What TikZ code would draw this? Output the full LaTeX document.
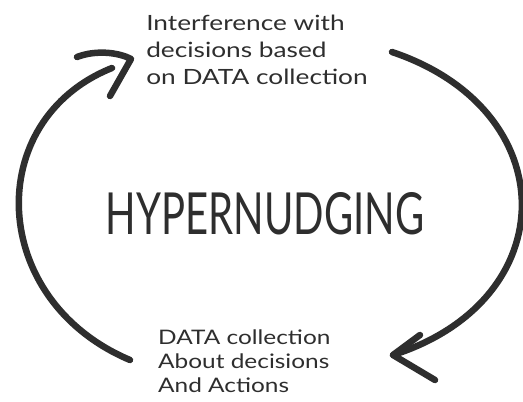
\documentclass[tikz,border=0pt]{standalone}
\usepackage{fontspec}
\setmainfont{Lato}
\definecolor{ink}{HTML}{2E2E2E}
\begin{document}
\begin{tikzpicture}[x=1pt,y=-1pt,
  arc/.style={draw=ink,line width=6.5pt,line cap=round,line join=round},
  note/.style={text=ink,align=left,anchor=north west,inner sep=0pt,transform shape},
  title/.style={text=ink,inner sep=0pt,font=\fontsize{40}{40}\selectfont,yscale=1.45,transform shape}]
\useasboundingbox (0,0) rectangle (523,402);
\fill[white] (0,0) rectangle (523,402);
% texts
\node[note,xscale=1.25,font=\fontsize{21}{27}\selectfont] (top) at (146,15) {Interference with\\decisions based\\on DATA collection};
\node[note,xscale=1.22,font=\fontsize{20}{24}\selectfont] (bottom) at (158,330) {DATA collection\\About decisions\\And Actions};
\node[title] (hyper) at (265,214) {HYPERNUDGING};
% left arc
\coordinate (ls) at (130,360);
\coordinate (lt) at (131,59);
\coordinate (la) at (77,57);
\coordinate (lb) at (110,96);
\draw[arc] (ls) .. controls (-12,300) and (-18,120) .. (112,68);
\draw[arc] (la) .. controls (95,50) and (118,52) .. (lt) -- (lb);
% right arc
\coordinate (rs) at (392,52);
\coordinate (rt) at (393,355);
\coordinate (ra) at (420,335);
\coordinate (rb) at (435,380);
\draw[arc] (rs) .. controls (565,110) and (565,300) .. (rt);
\draw[arc] (ra) -- (rt) -- (rb);
\end{tikzpicture}
\end{document}
